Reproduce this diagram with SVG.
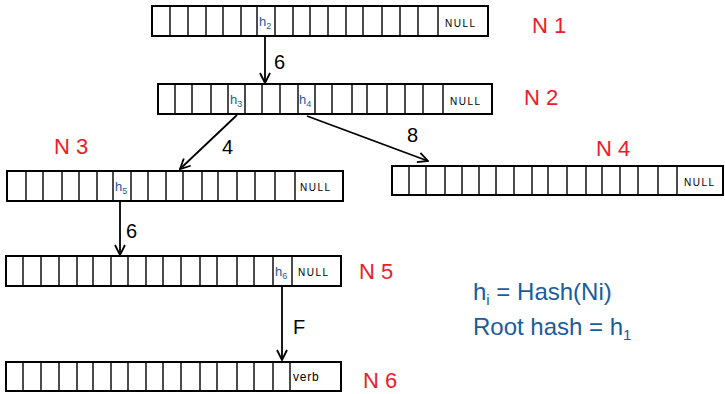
<svg xmlns="http://www.w3.org/2000/svg" width="725" height="394" viewBox="0 0 725 394">
<style>
.box{fill:#fff;stroke:#000;stroke-width:2}
.div{fill:none;stroke:#000;stroke-width:1.4}
.null{font-family:"Liberation Sans",Arial,sans-serif;font-size:10px;letter-spacing:1.5px;fill:#000}
.hl{font-family:"Liberation Sans",Arial,sans-serif;font-size:13px;fill:#1a5c9c}
.hl tspan{font-size:9px}
.nl{font-family:"Liberation Sans",Arial,sans-serif;font-size:22px;fill:#e8202a;letter-spacing:6px}
.el{font-family:"Liberation Sans",Arial,sans-serif;font-size:20px;fill:#000}
.edge{fill:none;stroke:#000;stroke-width:1.8}
.fm{font-family:"Liberation Sans",Arial,sans-serif;font-size:24px;fill:#1a5c9c}
</style>
<defs>
<marker id="ah" viewBox="0 0 12 12" refX="11" refY="6" markerWidth="12" markerHeight="12" markerUnits="userSpaceOnUse" orient="auto">
<path d="M1,1 L11,6 L1,11" fill="none" stroke="#000" stroke-width="1.8"/>
</marker>
</defs>

<g id="connectors">
<line class="edge" x1="265" y1="36" x2="265" y2="83" marker-end="url(#ah)"/>
<text class="el" x="274" y="69">6</text>
<line class="edge" x1="237" y1="115" x2="180" y2="169" marker-end="url(#ah)"/>
<text class="el" x="222" y="154">4</text>
<line class="edge" x1="307" y1="116" x2="428" y2="161" marker-end="url(#ah)"/>
<text class="el" x="407" y="142">8</text>
<line class="edge" x1="120" y1="201" x2="120" y2="255" marker-end="url(#ah)"/>
<text class="el" x="126" y="238">6</text>
<line class="edge" x1="282" y1="286" x2="282" y2="360" marker-end="url(#ah)"/>
<text class="el" x="293" y="334">F</text>
</g>

<g id="N1">
<rect class="box" x="152" y="6" width="336" height="30"/>
<path class="div" d="M170,6V36M188,6V36M206,6V36M223,6V36M241,6V36M257,6V36M275,6V36M293,6V36M310,6V36M328,6V36M346,6V36M363,6V36M382,6V36M400,6V36M418,6V36M438,6V36"/>
<text class="hl" x="259" y="26">h<tspan dy="3">2</tspan></text>
<text class="null" x="445" y="27">NULL</text>
<text class="nl" x="532" y="33">N1</text>
</g>

<g id="N2">
<rect class="box" x="158" y="84" width="334" height="30"/>
<path class="div" d="M175,84V114M192,84V114M211,84V114M228,84V114M245,84V114M262,84V114M280,84V114M298,84V114M315,84V114M332,84V114M352,84V114M367,84V114M387,84V114M405,84V114M423,84V114M443,84V114"/>
<text class="hl" x="230" y="104">h<tspan dy="3">3</tspan></text>
<text class="hl" x="299" y="104">h<tspan dy="3">4</tspan></text>
<text class="null" x="450" y="105">NULL</text>
<text class="nl" x="524" y="105">N2</text>
</g>

<g id="N3">
<rect class="box" x="7" y="171" width="336" height="30"/>
<path class="div" d="M26,171V201M43,171V201M62,171V201M79,171V201M97,171V201M113,171V201M131,171V201M148,171V201M166,171V201M183,171V201M202,171V201M218,171V201M237,171V201M255,171V201M275,171V201M295,171V201"/>
<text class="hl" x="115" y="191">h<tspan dy="3">5</tspan></text>
<text class="null" x="300" y="191">NULL</text>
<text class="nl" x="54" y="154">N3</text>
</g>

<g id="N4">
<rect class="box" x="392" y="166" width="331" height="29"/>
<path class="div" d="M409,166V195M426,166V195M445,166V195M462,166V195M479,166V195M496,166V195M514,166V195M532,166V195M548,166V195M567,166V195M586,166V195M602,166V195M620,166V195M638,166V195M658,166V195M677,166V195"/>
<text class="null" x="684" y="186">NULL</text>
<text class="nl" x="596" y="156">N4</text>
</g>

<g id="N5">
<rect class="box" x="6" y="256" width="335" height="30"/>
<path class="div" d="M23,256V286M41,256V286M59,256V286M77,256V286M93,256V286M111,256V286M128,256V286M146,256V286M163,256V286M181,256V286M200,256V286M217,256V286M237,256V286M254,256V286M273,256V286M292,256V286"/>
<text class="hl" x="275" y="276">h<tspan dy="3">6</tspan></text>
<text class="null" x="298" y="276">NULL</text>
<text class="nl" x="359" y="279">N5</text>
</g>

<g id="N6">
<rect class="box" x="6" y="362" width="335" height="29"/>
<path class="div" d="M23,362V391M41,362V391M59,362V391M77,362V391M93,362V391M111,362V391M128,362V391M146,362V391M163,362V391M181,362V391M200,362V391M217,362V391M237,362V391M254,362V391M273,362V391M290,362V391"/>
<text class="null" x="293" y="381" style="letter-spacing:0.8px;font-size:12px">verb</text>
<text class="nl" x="363" y="388">N6</text>
</g>

<g id="legend">
<text class="fm" x="473" y="300">h<tspan font-size="15" dy="5">i</tspan><tspan dy="-5"> = Hash(Ni)</tspan></text>
<text class="fm" x="473" y="335">Root hash = h<tspan font-size="15" dy="5">1</tspan></text>
</g>
</svg>
